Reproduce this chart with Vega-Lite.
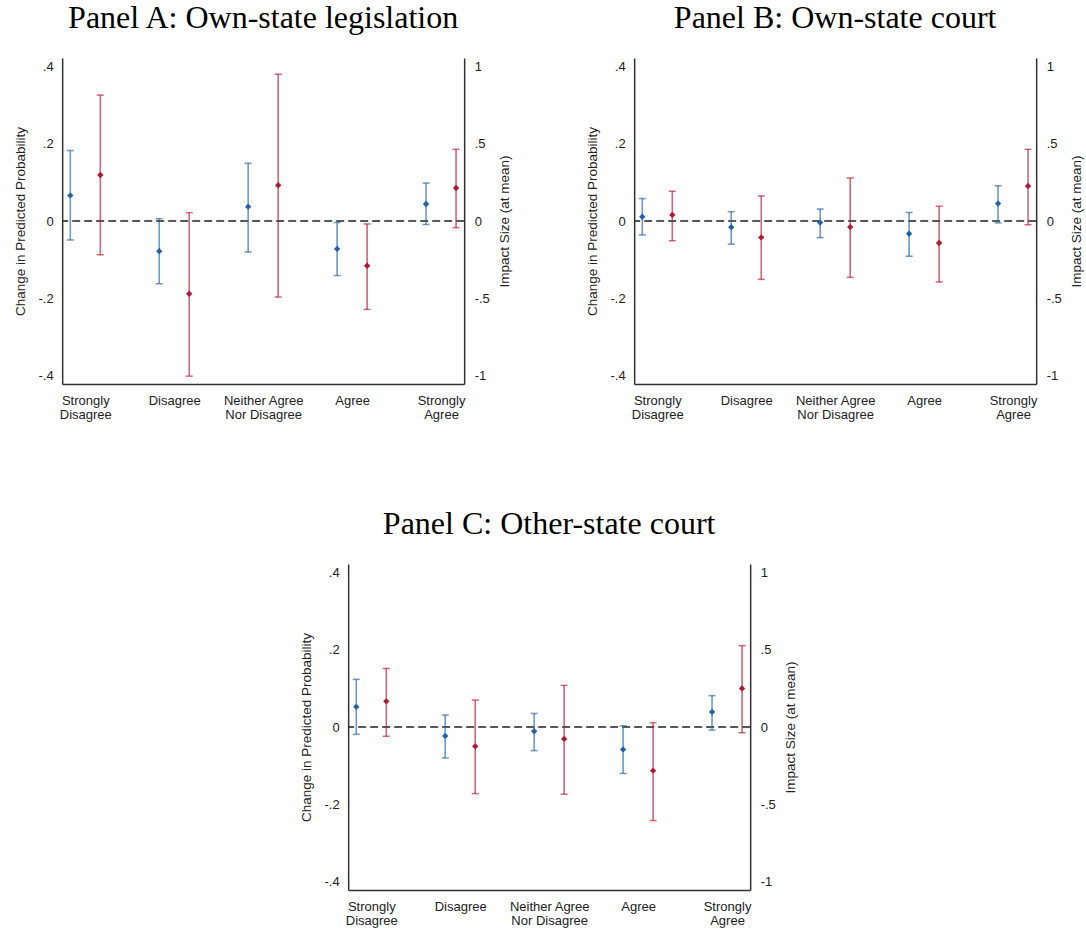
{
  "$schema": "https://vega.github.io/schema/vega-lite/v6.json",
  "background": "white",
  "padding": {"left": 13, "top": 2, "right": 5, "bottom": 2},
  "datasets": {
    "d": [
      {"panel": "A", "series": "prob", "cat": 1, "est": 0.066, "lo": -0.049, "hi": 0.182},
      {"panel": "A", "series": "prob", "cat": 2, "est": -0.078, "lo": -0.162, "hi": 0.006},
      {"panel": "A", "series": "prob", "cat": 3, "est": 0.037, "lo": -0.080, "hi": 0.149},
      {"panel": "A", "series": "prob", "cat": 4, "est": -0.072, "lo": -0.141, "hi": -0.004},
      {"panel": "A", "series": "prob", "cat": 5, "est": 0.044, "lo": -0.009, "hi": 0.098},
      {"panel": "A", "series": "impact", "cat": 1, "est": 0.297, "lo": -0.218, "hi": 0.813},
      {"panel": "A", "series": "impact", "cat": 2, "est": -0.470, "lo": -1.002, "hi": 0.054},
      {"panel": "A", "series": "impact", "cat": 3, "est": 0.231, "lo": -0.491, "hi": 0.948},
      {"panel": "A", "series": "impact", "cat": 4, "est": -0.289, "lo": -0.571, "hi": -0.019},
      {"panel": "A", "series": "impact", "cat": 5, "est": 0.213, "lo": -0.043, "hi": 0.463},
      {"panel": "B", "series": "prob", "cat": 1, "est": 0.011, "lo": -0.036, "hi": 0.058},
      {"panel": "B", "series": "prob", "cat": 2, "est": -0.016, "lo": -0.060, "hi": 0.024},
      {"panel": "B", "series": "prob", "cat": 3, "est": -0.004, "lo": -0.043, "hi": 0.031},
      {"panel": "B", "series": "prob", "cat": 4, "est": -0.033, "lo": -0.091, "hi": 0.022},
      {"panel": "B", "series": "prob", "cat": 5, "est": 0.045, "lo": -0.005, "hi": 0.091},
      {"panel": "B", "series": "impact", "cat": 1, "est": 0.039, "lo": -0.127, "hi": 0.192},
      {"panel": "B", "series": "impact", "cat": 2, "est": -0.106, "lo": -0.377, "hi": 0.162},
      {"panel": "B", "series": "impact", "cat": 3, "est": -0.039, "lo": -0.364, "hi": 0.278},
      {"panel": "B", "series": "impact", "cat": 4, "est": -0.142, "lo": -0.394, "hi": 0.095},
      {"panel": "B", "series": "impact", "cat": 5, "est": 0.226, "lo": -0.024, "hi": 0.463},
      {"panel": "C", "series": "prob", "cat": 1, "est": 0.052, "lo": -0.019, "hi": 0.123},
      {"panel": "C", "series": "prob", "cat": 2, "est": -0.023, "lo": -0.080, "hi": 0.031},
      {"panel": "C", "series": "prob", "cat": 3, "est": -0.011, "lo": -0.061, "hi": 0.035},
      {"panel": "C", "series": "prob", "cat": 4, "est": -0.058, "lo": -0.120, "hi": 0.003},
      {"panel": "C", "series": "prob", "cat": 5, "est": 0.039, "lo": -0.008, "hi": 0.081},
      {"panel": "C", "series": "impact", "cat": 1, "est": 0.166, "lo": -0.060, "hi": 0.378},
      {"panel": "C", "series": "impact", "cat": 2, "est": -0.125, "lo": -0.430, "hi": 0.174},
      {"panel": "C", "series": "impact", "cat": 3, "est": -0.077, "lo": -0.434, "hi": 0.269},
      {"panel": "C", "series": "impact", "cat": 4, "est": -0.282, "lo": -0.604, "hi": 0.028},
      {"panel": "C", "series": "impact", "cat": 5, "est": 0.249, "lo": -0.037, "hi": 0.525}
    ]
  },
  "vconcat": [
    {
      "hconcat": [
        {
          "title": {"text": "Panel A: Own-state legislation"},
          "width": 402, "height": 326,
          "data": {"name": "d"},
          "transform": [{"filter": "datum.panel == 'A'"}],
          "layer": [
            {"data": {"values": [{}]}, "mark": {"type": "rule", "color": "#222222", "strokeDash": [8, 4], "strokeWidth": 1.3}, "encoding": {"y": {"datum": 0, "type": "quantitative", "scale": {"domain": [-0.421, 0.421], "nice": false, "zero": false}, "axis": null}}},
            {
              "transform": [{"filter": "datum.series == 'prob'"}],
              "encoding": {"x": {"field": "cat", "type": "quantitative", "scale": {"domain": [0.74, 5.26], "nice": false, "zero": false}, "axis": {"values": [1, 2, 3, 4, 5], "title": null, "labelAngle": 0, "labelAlign": "center", "labelBaseline": "top", "labelPadding": 10, "labelLineHeight": 14, "labelExpr": "datum.value == 1 ? ['Strongly', 'Disagree'] : datum.value == 2 ? 'Disagree' : datum.value == 3 ? ['Neither Agree', 'Nor Disagree'] : datum.value == 4 ? 'Agree' : ['Strongly', 'Agree']"}}},
              "layer": [
                {"mark": {"type": "rule", "color": "#2062a8", "opacity": 0.65, "strokeWidth": 1.6, "xOffset": -15}, "encoding": {"y": {"field": "lo", "type": "quantitative", "title": "Change in Predicted Probability", "scale": {"domain": [-0.421, 0.421], "nice": false, "zero": false}, "axis": {"orient": "left", "values": [-0.4, -0.2, 0, 0.2, 0.4], "titlePadding": 10, "labelExpr": "datum.value == 0 ? '0' : (datum.value < 0 ? '-' : '') + replace(format(abs(datum.value), '.1~f'), '0.', '.')"}}, "y2": {"field": "hi"}}},
                {"mark": {"type": "tick", "orient": "horizontal", "color": "#2062a8", "opacity": 0.65, "size": 7, "thickness": 1.5, "xOffset": -15}, "encoding": {"y": {"field": "lo", "type": "quantitative", "title": "Change in Predicted Probability", "axis": {"orient": "left", "values": [-0.4, -0.2, 0, 0.2, 0.4], "titlePadding": 10, "labelExpr": "datum.value == 0 ? '0' : (datum.value < 0 ? '-' : '') + replace(format(abs(datum.value), '.1~f'), '0.', '.')"}}}},
                {"mark": {"type": "tick", "orient": "horizontal", "color": "#2062a8", "opacity": 0.65, "size": 7, "thickness": 1.5, "xOffset": -15}, "encoding": {"y": {"field": "hi", "type": "quantitative", "title": "Change in Predicted Probability", "axis": {"orient": "left", "values": [-0.4, -0.2, 0, 0.2, 0.4], "titlePadding": 10, "labelExpr": "datum.value == 0 ? '0' : (datum.value < 0 ? '-' : '') + replace(format(abs(datum.value), '.1~f'), '0.', '.')"}}}},
                {"mark": {"type": "point", "shape": "diamond", "filled": true, "size": 40, "color": "#2062a8", "opacity": 1, "xOffset": -15}, "encoding": {"y": {"field": "est", "type": "quantitative", "title": "Change in Predicted Probability", "axis": {"orient": "left", "values": [-0.4, -0.2, 0, 0.2, 0.4], "titlePadding": 10, "labelExpr": "datum.value == 0 ? '0' : (datum.value < 0 ? '-' : '') + replace(format(abs(datum.value), '.1~f'), '0.', '.')"}}}}
              ]
            },
            {
              "transform": [{"filter": "datum.series == 'impact'"}],
              "encoding": {"x": {"field": "cat", "type": "quantitative", "scale": {"domain": [0.74, 5.26], "nice": false, "zero": false}, "axis": {"values": [1, 2, 3, 4, 5], "title": null, "labelAngle": 0, "labelAlign": "center", "labelBaseline": "top", "labelPadding": 10, "labelLineHeight": 14, "labelExpr": "datum.value == 1 ? ['Strongly', 'Disagree'] : datum.value == 2 ? 'Disagree' : datum.value == 3 ? ['Neither Agree', 'Nor Disagree'] : datum.value == 4 ? 'Agree' : ['Strongly', 'Agree']"}}},
              "layer": [
                {"mark": {"type": "rule", "color": "#b5172f", "opacity": 0.65, "strokeWidth": 1.6, "xOffset": 15}, "encoding": {"y": {"field": "lo", "type": "quantitative", "title": "Impact Size (at mean)", "scale": {"domain": [-1.0525, 1.0525], "nice": false, "zero": false}, "axis": {"orient": "right", "values": [-1, -0.5, 0, 0.5, 1], "titleAngle": 270, "titleBaseline": "top", "titlePadding": 8, "labelPadding": 10, "labelExpr": "datum.value == 0 ? '0' : (datum.value < 0 ? '-' : '') + replace(format(abs(datum.value), '.1~f'), '0.', '.')"}}, "y2": {"field": "hi"}}},
                {"mark": {"type": "tick", "orient": "horizontal", "color": "#b5172f", "opacity": 0.65, "size": 7, "thickness": 1.5, "xOffset": 15}, "encoding": {"y": {"field": "lo", "type": "quantitative", "title": "Impact Size (at mean)", "axis": {"orient": "right", "values": [-1, -0.5, 0, 0.5, 1], "titleAngle": 270, "titleBaseline": "top", "titlePadding": 8, "labelPadding": 10, "labelExpr": "datum.value == 0 ? '0' : (datum.value < 0 ? '-' : '') + replace(format(abs(datum.value), '.1~f'), '0.', '.')"}}}},
                {"mark": {"type": "tick", "orient": "horizontal", "color": "#b5172f", "opacity": 0.65, "size": 7, "thickness": 1.5, "xOffset": 15}, "encoding": {"y": {"field": "hi", "type": "quantitative", "title": "Impact Size (at mean)", "axis": {"orient": "right", "values": [-1, -0.5, 0, 0.5, 1], "titleAngle": 270, "titleBaseline": "top", "titlePadding": 8, "labelPadding": 10, "labelExpr": "datum.value == 0 ? '0' : (datum.value < 0 ? '-' : '') + replace(format(abs(datum.value), '.1~f'), '0.', '.')"}}}},
                {"mark": {"type": "point", "shape": "diamond", "filled": true, "size": 40, "color": "#b5172f", "opacity": 1, "xOffset": 15}, "encoding": {"y": {"field": "est", "type": "quantitative", "title": "Impact Size (at mean)", "axis": {"orient": "right", "values": [-1, -0.5, 0, 0.5, 1], "titleAngle": 270, "titleBaseline": "top", "titlePadding": 8, "labelPadding": 10, "labelExpr": "datum.value == 0 ? '0' : (datum.value < 0 ? '-' : '') + replace(format(abs(datum.value), '.1~f'), '0.', '.')"}}}}
              ]
            }
          ],
          "resolve": {"scale": {"y": "independent"}}
        },
        {
          "title": {"text": "Panel B: Own-state court"},
          "width": 402, "height": 326,
          "data": {"name": "d"},
          "transform": [{"filter": "datum.panel == 'B'"}],
          "layer": [
            {"data": {"values": [{}]}, "mark": {"type": "rule", "color": "#222222", "strokeDash": [8, 4], "strokeWidth": 1.3}, "encoding": {"y": {"datum": 0, "type": "quantitative", "scale": {"domain": [-0.421, 0.421], "nice": false, "zero": false}, "axis": null}}},
            {
              "transform": [{"filter": "datum.series == 'prob'"}],
              "encoding": {"x": {"field": "cat", "type": "quantitative", "scale": {"domain": [0.74, 5.26], "nice": false, "zero": false}, "axis": {"values": [1, 2, 3, 4, 5], "title": null, "labelAngle": 0, "labelAlign": "center", "labelBaseline": "top", "labelPadding": 10, "labelLineHeight": 14, "labelExpr": "datum.value == 1 ? ['Strongly', 'Disagree'] : datum.value == 2 ? 'Disagree' : datum.value == 3 ? ['Neither Agree', 'Nor Disagree'] : datum.value == 4 ? 'Agree' : ['Strongly', 'Agree']"}}},
              "layer": [
                {"mark": {"type": "rule", "color": "#2062a8", "opacity": 0.65, "strokeWidth": 1.6, "xOffset": -15}, "encoding": {"y": {"field": "lo", "type": "quantitative", "title": "Change in Predicted Probability", "scale": {"domain": [-0.421, 0.421], "nice": false, "zero": false}, "axis": {"orient": "left", "values": [-0.4, -0.2, 0, 0.2, 0.4], "titlePadding": 10, "labelExpr": "datum.value == 0 ? '0' : (datum.value < 0 ? '-' : '') + replace(format(abs(datum.value), '.1~f'), '0.', '.')"}}, "y2": {"field": "hi"}}},
                {"mark": {"type": "tick", "orient": "horizontal", "color": "#2062a8", "opacity": 0.65, "size": 7, "thickness": 1.5, "xOffset": -15}, "encoding": {"y": {"field": "lo", "type": "quantitative", "title": "Change in Predicted Probability", "axis": {"orient": "left", "values": [-0.4, -0.2, 0, 0.2, 0.4], "titlePadding": 10, "labelExpr": "datum.value == 0 ? '0' : (datum.value < 0 ? '-' : '') + replace(format(abs(datum.value), '.1~f'), '0.', '.')"}}}},
                {"mark": {"type": "tick", "orient": "horizontal", "color": "#2062a8", "opacity": 0.65, "size": 7, "thickness": 1.5, "xOffset": -15}, "encoding": {"y": {"field": "hi", "type": "quantitative", "title": "Change in Predicted Probability", "axis": {"orient": "left", "values": [-0.4, -0.2, 0, 0.2, 0.4], "titlePadding": 10, "labelExpr": "datum.value == 0 ? '0' : (datum.value < 0 ? '-' : '') + replace(format(abs(datum.value), '.1~f'), '0.', '.')"}}}},
                {"mark": {"type": "point", "shape": "diamond", "filled": true, "size": 40, "color": "#2062a8", "opacity": 1, "xOffset": -15}, "encoding": {"y": {"field": "est", "type": "quantitative", "title": "Change in Predicted Probability", "axis": {"orient": "left", "values": [-0.4, -0.2, 0, 0.2, 0.4], "titlePadding": 10, "labelExpr": "datum.value == 0 ? '0' : (datum.value < 0 ? '-' : '') + replace(format(abs(datum.value), '.1~f'), '0.', '.')"}}}}
              ]
            },
            {
              "transform": [{"filter": "datum.series == 'impact'"}],
              "encoding": {"x": {"field": "cat", "type": "quantitative", "scale": {"domain": [0.74, 5.26], "nice": false, "zero": false}, "axis": {"values": [1, 2, 3, 4, 5], "title": null, "labelAngle": 0, "labelAlign": "center", "labelBaseline": "top", "labelPadding": 10, "labelLineHeight": 14, "labelExpr": "datum.value == 1 ? ['Strongly', 'Disagree'] : datum.value == 2 ? 'Disagree' : datum.value == 3 ? ['Neither Agree', 'Nor Disagree'] : datum.value == 4 ? 'Agree' : ['Strongly', 'Agree']"}}},
              "layer": [
                {"mark": {"type": "rule", "color": "#b5172f", "opacity": 0.65, "strokeWidth": 1.6, "xOffset": 15}, "encoding": {"y": {"field": "lo", "type": "quantitative", "title": "Impact Size (at mean)", "scale": {"domain": [-1.0525, 1.0525], "nice": false, "zero": false}, "axis": {"orient": "right", "values": [-1, -0.5, 0, 0.5, 1], "titleAngle": 270, "titleBaseline": "top", "titlePadding": 8, "labelPadding": 10, "labelExpr": "datum.value == 0 ? '0' : (datum.value < 0 ? '-' : '') + replace(format(abs(datum.value), '.1~f'), '0.', '.')"}}, "y2": {"field": "hi"}}},
                {"mark": {"type": "tick", "orient": "horizontal", "color": "#b5172f", "opacity": 0.65, "size": 7, "thickness": 1.5, "xOffset": 15}, "encoding": {"y": {"field": "lo", "type": "quantitative", "title": "Impact Size (at mean)", "axis": {"orient": "right", "values": [-1, -0.5, 0, 0.5, 1], "titleAngle": 270, "titleBaseline": "top", "titlePadding": 8, "labelPadding": 10, "labelExpr": "datum.value == 0 ? '0' : (datum.value < 0 ? '-' : '') + replace(format(abs(datum.value), '.1~f'), '0.', '.')"}}}},
                {"mark": {"type": "tick", "orient": "horizontal", "color": "#b5172f", "opacity": 0.65, "size": 7, "thickness": 1.5, "xOffset": 15}, "encoding": {"y": {"field": "hi", "type": "quantitative", "title": "Impact Size (at mean)", "axis": {"orient": "right", "values": [-1, -0.5, 0, 0.5, 1], "titleAngle": 270, "titleBaseline": "top", "titlePadding": 8, "labelPadding": 10, "labelExpr": "datum.value == 0 ? '0' : (datum.value < 0 ? '-' : '') + replace(format(abs(datum.value), '.1~f'), '0.', '.')"}}}},
                {"mark": {"type": "point", "shape": "diamond", "filled": true, "size": 40, "color": "#b5172f", "opacity": 1, "xOffset": 15}, "encoding": {"y": {"field": "est", "type": "quantitative", "title": "Impact Size (at mean)", "axis": {"orient": "right", "values": [-1, -0.5, 0, 0.5, 1], "titleAngle": 270, "titleBaseline": "top", "titlePadding": 8, "labelPadding": 10, "labelExpr": "datum.value == 0 ? '0' : (datum.value < 0 ? '-' : '') + replace(format(abs(datum.value), '.1~f'), '0.', '.')"}}}}
              ]
            }
          ],
          "resolve": {"scale": {"y": "independent"}}
        }
      ],
      "spacing": 74
    },
    {
      "title": {"text": "Panel C: Other-state court"},
      "width": 402, "height": 326,
      "data": {"name": "d"},
      "transform": [{"filter": "datum.panel == 'C'"}],
      "layer": [
        {"data": {"values": [{}]}, "mark": {"type": "rule", "color": "#222222", "strokeDash": [8, 4], "strokeWidth": 1.3}, "encoding": {"y": {"datum": 0, "type": "quantitative", "scale": {"domain": [-0.421, 0.421], "nice": false, "zero": false}, "axis": null}}},
        {
          "transform": [{"filter": "datum.series == 'prob'"}],
          "encoding": {"x": {"field": "cat", "type": "quantitative", "scale": {"domain": [0.74, 5.26], "nice": false, "zero": false}, "axis": {"values": [1, 2, 3, 4, 5], "title": null, "labelAngle": 0, "labelAlign": "center", "labelBaseline": "top", "labelPadding": 10, "labelLineHeight": 14, "labelExpr": "datum.value == 1 ? ['Strongly', 'Disagree'] : datum.value == 2 ? 'Disagree' : datum.value == 3 ? ['Neither Agree', 'Nor Disagree'] : datum.value == 4 ? 'Agree' : ['Strongly', 'Agree']"}}},
          "layer": [
            {"mark": {"type": "rule", "color": "#2062a8", "opacity": 0.65, "strokeWidth": 1.6, "xOffset": -15}, "encoding": {"y": {"field": "lo", "type": "quantitative", "title": "Change in Predicted Probability", "scale": {"domain": [-0.421, 0.421], "nice": false, "zero": false}, "axis": {"orient": "left", "values": [-0.4, -0.2, 0, 0.2, 0.4], "titlePadding": 10, "labelExpr": "datum.value == 0 ? '0' : (datum.value < 0 ? '-' : '') + replace(format(abs(datum.value), '.1~f'), '0.', '.')"}}, "y2": {"field": "hi"}}},
            {"mark": {"type": "tick", "orient": "horizontal", "color": "#2062a8", "opacity": 0.65, "size": 7, "thickness": 1.5, "xOffset": -15}, "encoding": {"y": {"field": "lo", "type": "quantitative", "title": "Change in Predicted Probability", "axis": {"orient": "left", "values": [-0.4, -0.2, 0, 0.2, 0.4], "titlePadding": 10, "labelExpr": "datum.value == 0 ? '0' : (datum.value < 0 ? '-' : '') + replace(format(abs(datum.value), '.1~f'), '0.', '.')"}}}},
            {"mark": {"type": "tick", "orient": "horizontal", "color": "#2062a8", "opacity": 0.65, "size": 7, "thickness": 1.5, "xOffset": -15}, "encoding": {"y": {"field": "hi", "type": "quantitative", "title": "Change in Predicted Probability", "axis": {"orient": "left", "values": [-0.4, -0.2, 0, 0.2, 0.4], "titlePadding": 10, "labelExpr": "datum.value == 0 ? '0' : (datum.value < 0 ? '-' : '') + replace(format(abs(datum.value), '.1~f'), '0.', '.')"}}}},
            {"mark": {"type": "point", "shape": "diamond", "filled": true, "size": 40, "color": "#2062a8", "opacity": 1, "xOffset": -15}, "encoding": {"y": {"field": "est", "type": "quantitative", "title": "Change in Predicted Probability", "axis": {"orient": "left", "values": [-0.4, -0.2, 0, 0.2, 0.4], "titlePadding": 10, "labelExpr": "datum.value == 0 ? '0' : (datum.value < 0 ? '-' : '') + replace(format(abs(datum.value), '.1~f'), '0.', '.')"}}}}
          ]
        },
        {
          "transform": [{"filter": "datum.series == 'impact'"}],
          "encoding": {"x": {"field": "cat", "type": "quantitative", "scale": {"domain": [0.74, 5.26], "nice": false, "zero": false}, "axis": {"values": [1, 2, 3, 4, 5], "title": null, "labelAngle": 0, "labelAlign": "center", "labelBaseline": "top", "labelPadding": 10, "labelLineHeight": 14, "labelExpr": "datum.value == 1 ? ['Strongly', 'Disagree'] : datum.value == 2 ? 'Disagree' : datum.value == 3 ? ['Neither Agree', 'Nor Disagree'] : datum.value == 4 ? 'Agree' : ['Strongly', 'Agree']"}}},
          "layer": [
            {"mark": {"type": "rule", "color": "#b5172f", "opacity": 0.65, "strokeWidth": 1.6, "xOffset": 15}, "encoding": {"y": {"field": "lo", "type": "quantitative", "title": "Impact Size (at mean)", "scale": {"domain": [-1.0525, 1.0525], "nice": false, "zero": false}, "axis": {"orient": "right", "values": [-1, -0.5, 0, 0.5, 1], "titleAngle": 270, "titleBaseline": "top", "titlePadding": 8, "labelPadding": 10, "labelExpr": "datum.value == 0 ? '0' : (datum.value < 0 ? '-' : '') + replace(format(abs(datum.value), '.1~f'), '0.', '.')"}}, "y2": {"field": "hi"}}},
            {"mark": {"type": "tick", "orient": "horizontal", "color": "#b5172f", "opacity": 0.65, "size": 7, "thickness": 1.5, "xOffset": 15}, "encoding": {"y": {"field": "lo", "type": "quantitative", "title": "Impact Size (at mean)", "axis": {"orient": "right", "values": [-1, -0.5, 0, 0.5, 1], "titleAngle": 270, "titleBaseline": "top", "titlePadding": 8, "labelPadding": 10, "labelExpr": "datum.value == 0 ? '0' : (datum.value < 0 ? '-' : '') + replace(format(abs(datum.value), '.1~f'), '0.', '.')"}}}},
            {"mark": {"type": "tick", "orient": "horizontal", "color": "#b5172f", "opacity": 0.65, "size": 7, "thickness": 1.5, "xOffset": 15}, "encoding": {"y": {"field": "hi", "type": "quantitative", "title": "Impact Size (at mean)", "axis": {"orient": "right", "values": [-1, -0.5, 0, 0.5, 1], "titleAngle": 270, "titleBaseline": "top", "titlePadding": 8, "labelPadding": 10, "labelExpr": "datum.value == 0 ? '0' : (datum.value < 0 ? '-' : '') + replace(format(abs(datum.value), '.1~f'), '0.', '.')"}}}},
            {"mark": {"type": "point", "shape": "diamond", "filled": true, "size": 40, "color": "#b5172f", "opacity": 1, "xOffset": 15}, "encoding": {"y": {"field": "est", "type": "quantitative", "title": "Impact Size (at mean)", "axis": {"orient": "right", "values": [-1, -0.5, 0, 0.5, 1], "titleAngle": 270, "titleBaseline": "top", "titlePadding": 8, "labelPadding": 10, "labelExpr": "datum.value == 0 ? '0' : (datum.value < 0 ? '-' : '') + replace(format(abs(datum.value), '.1~f'), '0.', '.')"}}}}
          ]
        }
      ],
      "resolve": {"scale": {"y": "independent"}}
    }
  ],
  "spacing": 87,
  "center": true,
  "config": {
    "view": {"stroke": null},
    "axis": {"labelFont": "Liberation Sans", "labelFontSize": 13, "labelColor": "#222222", "titleFont": "Liberation Sans", "titleFontSize": 13.5, "titleFontWeight": "normal", "titleColor": "#222222", "ticks": false, "grid": false, "domainColor": "#333333", "domainWidth": 1.5, "labelPadding": 9},
    "title": {"font": "Liberation Serif", "fontSize": 32, "fontWeight": "normal", "color": "#000000", "anchor": "middle", "frame": "group", "offset": 23}
  }
}
